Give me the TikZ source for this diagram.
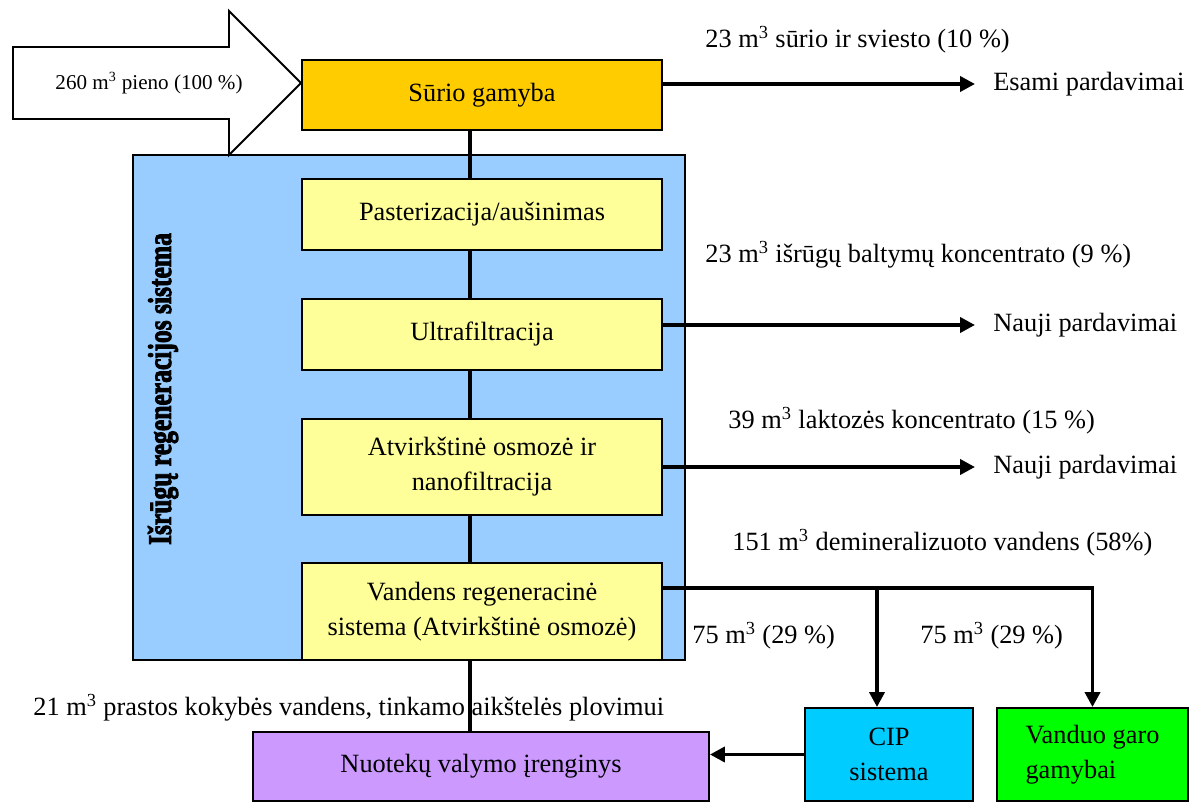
\documentclass[tikz,border=0pt]{standalone}
\usepackage{fontspec}
\usepackage{graphicx}
\setmainfont{Liberation Serif}
\newfontfamily\heavyfont{Liberation Serif Bold}[FakeBold=3]
\usetikzlibrary{arrows.meta}
\definecolor{cheese}{HTML}{FFCC00}
\definecolor{regenblue}{HTML}{99CCFF}
\definecolor{stage}{HTML}{FFFF99}
\definecolor{wwtp}{HTML}{CC99FF}
\definecolor{cipblue}{HTML}{00CCFF}
\definecolor{steam}{HTML}{00FF00}
\tikzset{
  box/.style={draw, line width=1.1pt, align=center, inner sep=0pt},
  flow/.style={line width=2.2pt, -{Triangle[length=0.3cm,width=0.3cm]}},
  pipe/.style={line width=2.2pt},
  lbl/.style={anchor=west, inner sep=0pt}
}
\begin{document}
\begin{tikzpicture}[x=0.02cm, y=-0.02cm, font=\fontsize{15}{20}\selectfont]
           % page
           \useasboundingbox (0,0) rectangle (1195,803);
           \fill[white] (0,0) rectangle (1195,803);
           % regeneration frame
           \node[box, fill=regenblue, minimum width=11.04cm, minimum height=10.1cm] (regen) at (409,407.5) {};
           \node[rotate=90, font=\heavyfont\fontsize{15}{20}\selectfont] (regenlbl) at (163,389) {\scalebox{0.97}[1.25]{Išrūgų regeneracijos sistema}};
           % milk input
           \draw[line width=1.1pt, fill=white] (13,47) -- (229,47) -- (229,11) -- (301,83) -- (229,155) -- (229,119) -- (13,119) -- cycle;
           \node[font=\fontsize{12}{14}\selectfont] (milk) at (149,83) {260 m\textsuperscript{3} pieno (100 \%)};
           % process boxes
           \node[box, fill=cheese, minimum width=7.2cm, minimum height=1.4cm] (surio) at (482,95) {Sūrio gamyba};
           \node[box, fill=stage, minimum width=7.2cm, minimum height=1.42cm] (past) at (482,214.5) {Pasterizacija/aušinimas};
           \node[box, fill=stage, minimum width=7.2cm, minimum height=1.42cm] (ultra) at (482,334.5) {Ultrafiltracija};
           \node[box, fill=stage, minimum width=7.2cm, minimum height=1.92cm] (osmo) at (482,467) {Atvirkštinė osmozė ir\\nanofiltracija};
           \node[box, fill=stage, minimum width=7.2cm, minimum height=1.94cm] (vand) at (482,611.5) {Vandens regeneracinė\\sistema (Atvirkštinė osmozė)};
           % receivers
           \node[box, fill=wwtp, minimum width=9.12cm, minimum height=1.38cm] (nuot) at (481,766.5) {Nuotekų valymo įrenginys};
           \node[box, fill=cipblue, minimum width=3.36cm, minimum height=1.86cm] (cip) at (889,754.5) {CIP\\sistema};
           \node[box, fill=steam, minimum width=3.82cm, minimum height=1.86cm, align=left] (garo) at (1092.5,754.5) {Vanduo garo\\gamybai};
           % labels
           \node[lbl] (esami) at (993,84) {Esami pardavimai};
           \node[lbl] (nauja) at (993,325) {Nauji pardavimai};
           \node[lbl] (naujb) at (993,467) {Nauji pardavimai};
           \node[lbl] (surioout) at (705,40) {23 m\textsuperscript{3} sūrio ir sviesto (10 \%)};
           \node[lbl] (baltout) at (705,255) {23 m\textsuperscript{3} išrūgų baltymų koncentrato (9 \%)};
           \node[lbl] (laktout) at (728,421) {39 m\textsuperscript{3} laktozės koncentrato (15 \%)};
           \node[lbl] (demiout) at (732,543) {151 m\textsuperscript{3} demineralizuoto vandens (58\%)};
           \node[lbl] (cipout) at (692,636) {75 m\textsuperscript{3} (29 \%)};
           \node[lbl] (garoout) at (920,636) {75 m\textsuperscript{3} (29 \%)};
           \node[lbl] (plovout) at (33,708) {21 m\textsuperscript{3} prastos kokybės vandens, tinkamo aikštelės plovimui};
           % spine
           \coordinate (spine) at (470,0);
           \draw[pipe] (surio.south -| spine) -- (past.north -| spine);
           \draw[pipe] (past.south -| spine) -- (ultra.north -| spine);
           \draw[pipe] (ultra.south -| spine) -- (osmo.north -| spine);
           \draw[pipe] (osmo.south -| spine) -- (vand.north -| spine);
           \draw[pipe] (vand.south -| spine) -- (nuot.north -| spine);
           % outputs
           \draw[flow, shorten >=0.36cm] (surio.east |- esami.west) -- (esami.west);
           \draw[flow, shorten >=0.36cm] (ultra.east |- nauja.west) -- (nauja.west);
           \draw[flow, shorten >=0.36cm] (osmo.east |- naujb.west) -- (naujb.west);
           % water split
           \coordinate (cipsplit) at (877,588);
           \coordinate (garosplit) at (1092.5,588);
           \draw[flow] (vand.east |- cipsplit) -- (garosplit) -- (garo.north);
           \draw[flow] (cipsplit) -- (cipsplit |- cip.north);
           \draw[flow] (cip.west) -- (nuot.east |- cip.west);
\end{tikzpicture}
\end{document}
